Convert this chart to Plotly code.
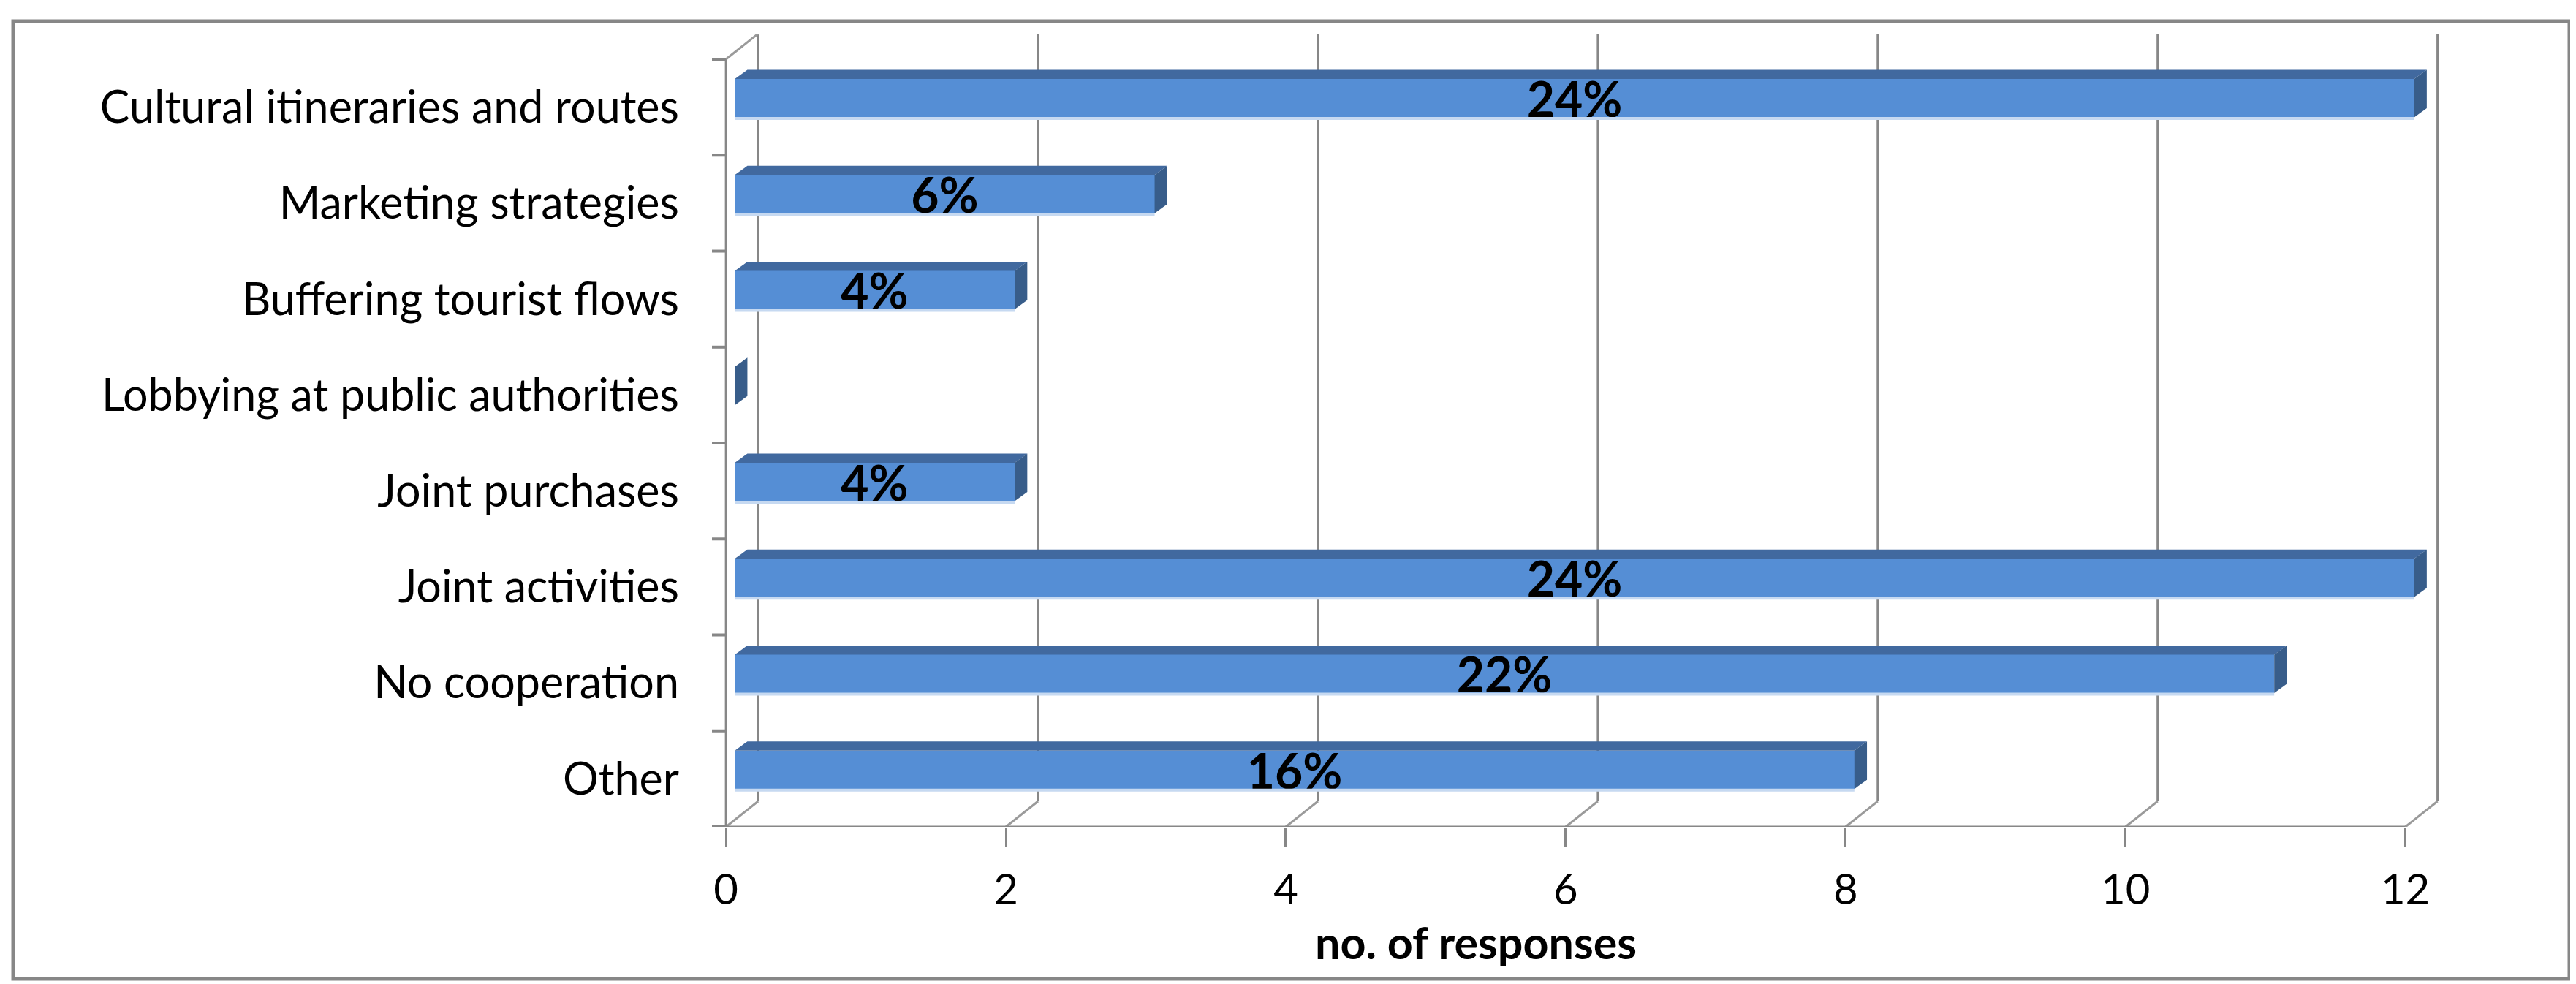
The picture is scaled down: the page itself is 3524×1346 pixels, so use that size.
import plotly.graph_objects as go

# ---------------- data ----------------
categories = ["Cultural itineraries and routes", "Marketing strategies", "Buffering tourist flows",
              "Lobbying at public authorities", "Joint purchases", "Joint activities",
              "No cooperation", "Other"]
responses = [12, 3, 2, 0, 2, 12, 11, 8]
pct_labels = ["24%", "6%", "4%", "", "4%", "24%", "22%", "16%"]
x_ticks = [0, 2, 4, 6, 8, 10, 12]
x_title = "no. of responses"

# ---------------- geometry ----------------
W, H = 3524, 1346
n = len(categories)
pos = [n - 1 - i for i in range(n)]          # first category on top

DX, DY = 0.23, 0.267                         # depth of the walls (data units)
X_MIN, X_MAX = -0.1, 12.3
Y_MIN, Y_MAX = -0.5, n - 0.5 + DY
ML, MR, MT, MB = 966, 184, 38, 223
PW, PH = W - ML - MR, H - MT - MB

BX, BY = 0.063, 0.095                        # bar front-face offset inside the box
BH = 0.40                                    # bar thickness
TDX, TDY = 0.09, 0.095                       # bar depth

FONT = "Lato"
GRID = "#878787"
FRONT, TOP, SIDE, EDGE = "#558ED5", "#41699F", "#385D8A", "#C6D9F1"


def px_to_paper(px, py):
    return (px - ML) / PW, (H - MB - py) / PH


fig = go.Figure()

# front faces with labels
fig.add_trace(go.Bar(
    y=[p + BY for p in pos], x=responses, base=BX, orientation="h", width=BH,
    marker=dict(color=FRONT, line=dict(width=0)),
    text=pct_labels, textposition="inside", insidetextanchor="middle",
    constraintext="none", textangle=0,
    textfont=dict(family=FONT, size=66, color="black", weight="bold"),
    hoverinfo="skip", showlegend=False,
))

# top faces and side faces
tx, ty, sx, sy, ex, ey = [], [], [], [], [], []
for p, v in zip(pos, responses):
    yc = p + BY
    yt, yb = yc + BH / 2, yc - BH / 2
    x0, x1 = BX, BX + v
    tx += [x0, x1, x1 + TDX, x0 + TDX, x0, None]
    ty += [yt, yt, yt + TDY, yt + TDY, yt, None]
    sx += [x1, x1 + TDX, x1 + TDX, x1, x1, None]
    sy += [yb, yb + TDY, yt + TDY, yt, yb, None]
    ex += [x0, x1, None]
    ey += [yb - 0.012, yb - 0.012, None]

fig.add_trace(go.Scatter(x=tx, y=ty, mode="lines", fill="toself", fillcolor=TOP,
                         line=dict(width=0, color=TOP), hoverinfo="skip", showlegend=False))
fig.add_trace(go.Scatter(x=sx, y=sy, mode="lines", fill="toself", fillcolor=SIDE,
                         line=dict(width=0, color=SIDE), hoverinfo="skip", showlegend=False))
fig.add_trace(go.Scatter(x=ex, y=ey, mode="lines", line=dict(width=4, color=EDGE),
                         hoverinfo="skip", showlegend=False))

shapes = []
line = dict(color=GRID, width=3)
# back wall gridlines
for t in x_ticks:
    shapes.append(dict(type="line", xref="x", yref="y", layer="below",
                       x0=t + DX, x1=t + DX, y0=Y_MIN + DY, y1=Y_MAX, line=line))
    # floor diagonals
    shapes.append(dict(type="line", xref="x", yref="y", layer="below",
                       x0=t, x1=t + DX, y0=Y_MIN, y1=Y_MIN + DY,
                       line=dict(color="#9a9a9a", width=3)))
# front floor edge
shapes.append(dict(type="line", xref="x", yref="y", layer="below",
                   x0=0, x1=x_ticks[-1], y0=Y_MIN, y1=Y_MIN, line=line))
# left wall front edge and top diagonal
shapes.append(dict(type="line", xref="x", yref="y", layer="below",
                   x0=0, x1=0, y0=Y_MIN, y1=n - 0.5, line=line))
shapes.append(dict(type="line", xref="x", yref="y", layer="below",
                   x0=0, x1=DX, y0=n - 0.5, y1=Y_MAX, line=dict(color="#9a9a9a", width=3)))
# category boundary ticks
for k in range(n + 1):
    shapes.append(dict(type="line", xref="x", yref="y", layer="below",
                       x0=X_MIN, x1=0, y0=k - 0.5, y1=k - 0.5, line=dict(color=GRID, width=4)))
# outer border
bx0, by0 = px_to_paper(10, 1331)
bx1, by1 = px_to_paper(3507, 21)
shapes.append(dict(type="rect", xref="paper", yref="paper", x0=bx0, x1=bx1, y0=by0, y1=by1,
                   line=dict(color=GRID, width=5), fillcolor="rgba(0,0,0,0)", layer="below"))

tx_p, ty_p = px_to_paper(2011, 1280)
fig.update_layout(
    width=W, height=H,
    margin=dict(l=ML, r=MR, t=MT, b=MB, pad=0),
    paper_bgcolor="white", plot_bgcolor="rgba(0,0,0,0)",
    showlegend=False, bargap=0,
    shapes=shapes,
    annotations=[dict(text=x_title, xref="paper", yref="paper", x=tx_p, y=ty_p,
                      xanchor="center", yanchor="middle", showarrow=False,
                      font=dict(family=FONT, size=61, color="black", weight="bold"))],
    xaxis=dict(range=[X_MIN, X_MAX], tickvals=x_ticks, ticks="outside", ticklen=27,
               tickwidth=3, tickcolor=GRID, showgrid=False, zeroline=False, showline=False,
               tickfont=dict(family=FONT, size=58, color="black"), ticklabelstandoff=8,
               fixedrange=True),
    yaxis=dict(range=[Y_MIN, Y_MAX], tickvals=pos, ticktext=categories, ticks="",
               showgrid=False, zeroline=False, showline=False,
               tickfont=dict(family=FONT, size=61, color="black"), ticklabelstandoff=44,
               fixedrange=True),
)

fig.write_html("out.html")
